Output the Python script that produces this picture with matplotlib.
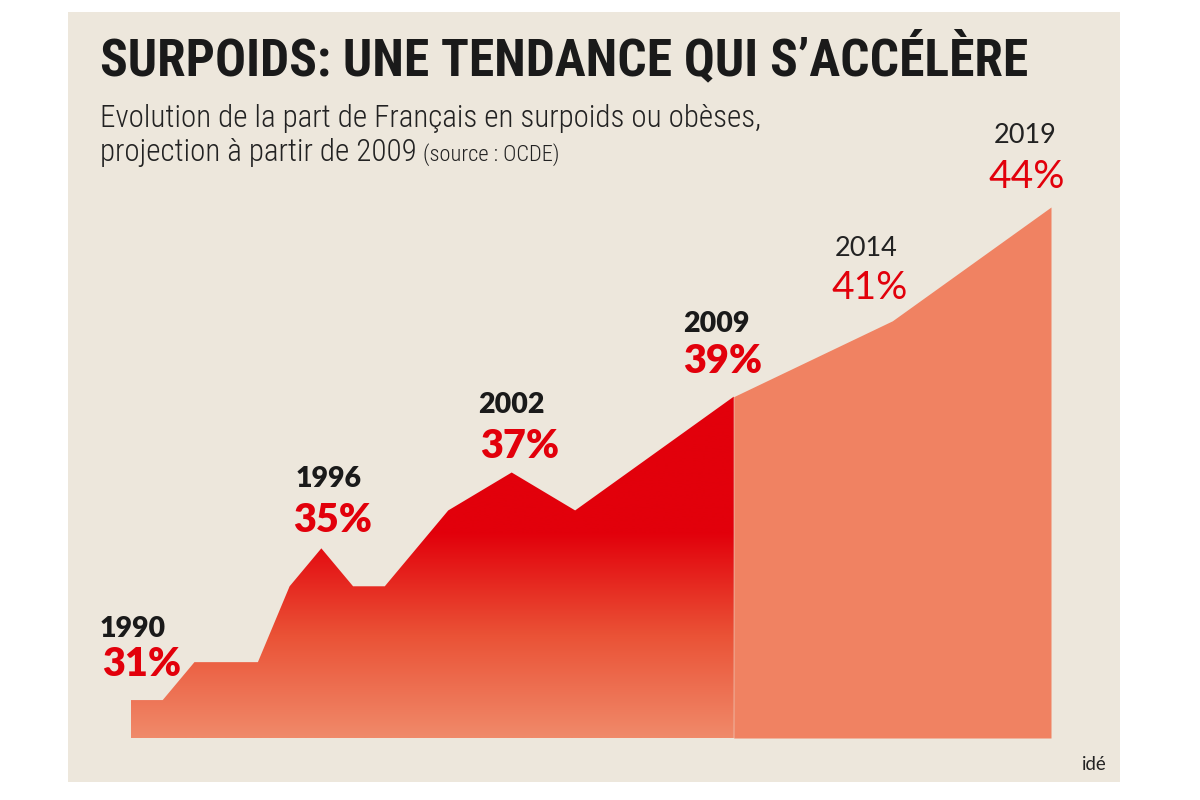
import numpy as np
import matplotlib
matplotlib.use("Agg")
import matplotlib.pyplot as plt
from matplotlib import font_manager
from matplotlib.colors import LinearSegmentedColormap
from matplotlib.patches import Rectangle, PathPatch

# ---------------- data ----------------
years_observed = [1990, 1991, 1992, 1994, 1995, 1996, 1997, 1998, 2000, 2002, 2004, 2009]
share_observed = [31, 31, 32, 32, 34, 35, 34, 34, 36, 37, 36, 39]
years_projected = [2009, 2014, 2019]
share_projected = [39, 41, 44]
label_years = [1990, 1996, 2002, 2009, 2014, 2019]
label_bold = [True, True, True, True, False, False]

title = "SURPOIDS: UNE TENDANCE QUI S\u2019ACC\u00c9L\u00c8RE"
subtitle_1 = "Evolution de la part de Fran\u00e7ais en surpoids ou ob\u00e8ses,"
subtitle_2 = "projection \u00e0 partir de 2009"
source = "(source : OCDE)"
credit = "id\u00e9"

# ---------------- style ----------------
W, H = 1200, 800
BEIGE = "#EDE7DC"
RED = "#E2000B"
SALMON = "#F08262"
BLACK = "#1A1A1A"
BASE = 30

names = {f.name for f in font_manager.fontManager.ttflist}
def pick(*cands):
    for c in cands:
        if c in names:
            return c
    return "DejaVu Sans"

cond = pick("Roboto Condensed", "Liberation Sans Narrow", "DejaVu Sans")
label_font = pick("Lato", "Open Sans", "DejaVu Sans")

fig = plt.figure(figsize=(12, 8), dpi=100, facecolor="white")
renderer = fig.canvas.get_renderer()

def fx(x):
    return x / W
def fy(y):
    return 1 - y / H

fig.add_artist(Rectangle((fx(68), fy(782)), 1052 / W, 770 / H,
                         transform=fig.transFigure, facecolor=BEIGE,
                         edgecolor="none", zorder=0))

ax = fig.add_axes([fx(131), fy(738), (1051 - 131) / W, (738 - 207) / H])
ax.set_zorder(1)
ax.patch.set_visible(False)
ax.axis("off")

# projected part
ax.fill_between(years_projected, share_projected, BASE, color=SALMON, lw=0, zorder=2)

# observed part with vertical gradient
poly = ax.fill_between(years_observed, share_observed, BASE, color="none", lw=0)
clip = PathPatch(poly.get_paths()[0], transform=ax.transData, facecolor="none", edgecolor="none")
ax.add_patch(clip)
top = max(share_observed)
cmap = LinearSegmentedColormap.from_list(
    "g", [(0.0, "#F08A6A"), (0.30, "#EA5236"), (0.60, RED), (1.0, RED)])
grad = np.linspace(0, 1, 512).reshape(-1, 1)
im = ax.imshow(grad, extent=[years_observed[0], years_observed[-1], BASE, top],
               origin="lower", aspect="auto", cmap=cmap, zorder=3, interpolation="bilinear")
im.set_clip_path(clip)

ax.set_xlim(1990, 2019)
ax.set_ylim(BASE, 44)

# ---------------- text helpers ----------------
def fit_size(s, target_w, **kw):
    t = fig.text(0, 0, s, fontsize=20, **kw)
    w = t.get_window_extent(renderer).width
    t.remove()
    return 20 * target_w / w

# title
tkw = dict(family=cond, weight="heavy")
fs = fit_size(title, 928, **tkw)
fig.text(fx(100), fy(75), title, fontsize=fs, color=BLACK, va="baseline", ha="left", **tkw)

# subtitle
skw = dict(family=cond, weight="light")
fs_sub = fit_size(subtitle_1, 660, **skw)
fig.text(fx(100), fy(127), subtitle_1, fontsize=fs_sub, color="#222222", va="baseline", **skw)
t2 = fig.text(fx(100), fy(161), subtitle_2, fontsize=fs_sub, color="#222222", va="baseline", **skw)
x_end = t2.get_window_extent(renderer).x1
fig.text(x_end / W + 6 / W, fy(161), source, fontsize=fs_sub * 0.72, color="#222222",
         va="baseline", **skw)

# credit
fig.text(fx(1082), fy(770), credit, fontsize=fit_size(credit, 25, family=label_font),
         family=label_font, color="#222222", va="baseline")

# ---------------- value labels ----------------
all_years = years_observed + years_projected[1:]
all_share = share_observed + share_projected[1:]
value_of = dict(zip(all_years, all_share))

fs_year_b, fs_pct_b = 20.5, 28.5
fs_year_r, fs_pct_r = 19.5, 28.0

# (dx of left edge, dy of baseline) in pixels relative to data point
year_off = {1990: (-31, 63), 1996: (-26, 61), 2002: (-34, 60),
            2009: (-51, 65), 2014: (-58, 65), 2019: (-57, 64)}
pct_off = {1990: (-29, 24), 1996: (-28, 16), 2002: (-32, 15),
           2009: (-51, 24), 2014: (-61, 22), 2019: (-63, 19)}

for yr, bold in zip(label_years, label_bold):
    v = value_of[yr]
    ax.annotate(str(yr), xy=(yr, v), xytext=year_off[yr], textcoords="offset pixels",
                ha="left", va="baseline", family=label_font,
                weight="heavy" if bold else "normal",
                fontsize=fs_year_b if bold else fs_year_r,
                color=BLACK if bold else "#222222", annotation_clip=False, zorder=5)
    ax.annotate(f"{v}%", xy=(yr, v), xytext=pct_off[yr], textcoords="offset pixels",
                ha="left", va="baseline", family=label_font,
                weight="heavy" if bold else "normal",
                fontsize=fs_pct_b if bold else fs_pct_r,
                color=RED, annotation_clip=False, zorder=5)

fig.savefig("out.png", dpi=100, facecolor="white")
